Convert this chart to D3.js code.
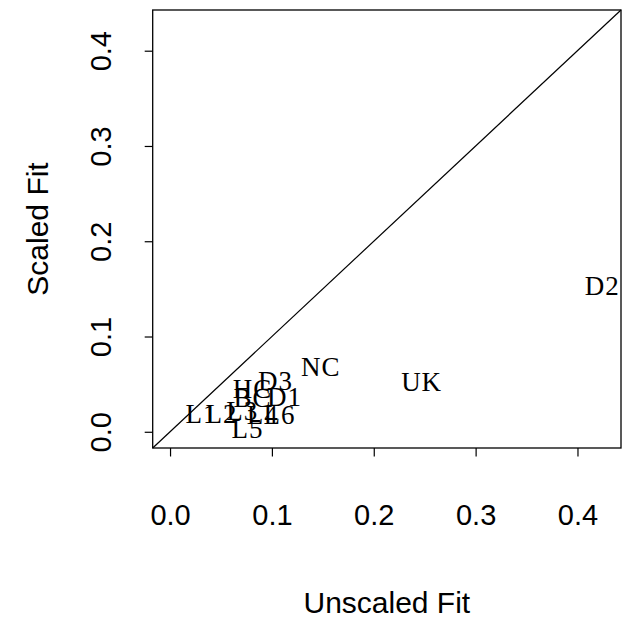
<!DOCTYPE html>
<html>
<head>
<meta charset="utf-8">
<script src="https://cdn.jsdelivr.net/npm/d3@7"></script>
<style>
  body { margin: 0; background: #fff; }
  svg { display: block; }
</style>
</head>
<body>
<svg id="chart"></svg>
<script>
// point labels and their two fit values
const labels   = ["L1", "L2", "L3", "L4", "L5", "L6", "HC", "BC", "D1", "D3", "NC", "UK", "D2"];
const unscaled = [0.031, 0.0505, 0.071, 0.091, 0.076, 0.1075, 0.081, 0.081, 0.1124, 0.1036, 0.148, 0.247, 0.4243];
const scaled   = [0.019, 0.019, 0.022, 0.018, 0.0023, 0.018, 0.0446, 0.035, 0.036, 0.053, 0.0678, 0.052, 0.153];
const ticks = [0, 0.1, 0.2, 0.3, 0.4];
const lim = [0, 0.4257];

const width = 629, height = 621;
const margin = { top: 10, right: 8, bottom: 173, left: 152.7 };

// R style 4% padding around the limits
const pad = (lim[1] - lim[0]) * 0.04;
const dom = [lim[0] - pad, lim[1] + pad];

const x = d3.scaleLinear().domain(dom).range([margin.left, width - margin.right]);
const y = d3.scaleLinear().domain(dom).range([height - margin.bottom, margin.top]);

const svg = d3.select("#chart").attr("width", width).attr("height", height);

// frame
svg.append("rect")
  .attr("x", margin.left).attr("y", margin.top)
  .attr("width", width - margin.left - margin.right)
  .attr("height", height - margin.top - margin.bottom)
  .attr("fill", "none").attr("stroke", "#000").attr("stroke-width", 1.3);

// y = x reference line
svg.append("line")
  .attr("x1", x(dom[0])).attr("y1", y(dom[0]))
  .attr("x2", x(dom[1])).attr("y2", y(dom[1]))
  .attr("stroke", "#000").attr("stroke-width", 1.2);

// axes
const xAxis = svg.append("g")
  .attr("transform", `translate(0,${height - margin.bottom})`)
  .call(d3.axisBottom(x).tickValues(ticks).tickFormat(d3.format(".1f")).tickSize(8.5).tickPadding(49));
const yAxis = svg.append("g")
  .attr("transform", `translate(${margin.left},0)`)
  .call(d3.axisLeft(y).tickValues(ticks).tickFormat(d3.format(".1f")).tickSize(8).tickPadding(10));

[xAxis, yAxis].forEach(g => {
  g.select(".domain").remove();
  g.selectAll("line").attr("stroke", "#000").attr("stroke-width", 1.2);
  g.selectAll("text")
    .attr("fill", "#000")
    .style("font-family", "'Liberation Sans', Arial, sans-serif")
    .style("font-size", "29px");
});
xAxis.selectAll("text").attr("dy", "0.35em").attr("y", 67);

// rotate y tick labels like R's default las=0
yAxis.selectAll(".tick text")
  .attr("x", null).attr("dy", null)
  .attr("text-anchor", "middle")
  .attr("transform", "translate(-52,0) rotate(-90)")
  .attr("dy", "0.35em");

// axis titles
svg.append("text")
  .attr("x", (margin.left + width - margin.right) / 2)
  .attr("y", 602).attr("dy", "0.35em")
  .attr("text-anchor", "middle")
  .style("font-family", "'Liberation Sans', Arial, sans-serif")
  .style("font-size", "30px")
  .text("Unscaled Fit");

svg.append("text")
  .attr("transform", `translate(37,${(margin.top + height - margin.bottom) / 2}) rotate(-90)`)
  .attr("dy", "0.35em")
  .attr("text-anchor", "middle")
  .style("font-family", "'Liberation Sans', Arial, sans-serif")
  .style("font-size", "30px")
  .text("Scaled Fit");

// point labels (serif, typewriter-like in the original)
svg.append("g").selectAll("text")
  .data(labels)
  .join("text")
  .attr("x", (d, i) => x(unscaled[i]))
  .attr("y", (d, i) => y(scaled[i]))
  .attr("dy", "0.33em")
  .attr("text-anchor", "middle")
  .style("font-family", "'Liberation Serif', 'Times New Roman', serif")
  .style("font-size", "27px")
  .style("letter-spacing", "1px")
  .text(d => d);
</script>
</body>
</html>
